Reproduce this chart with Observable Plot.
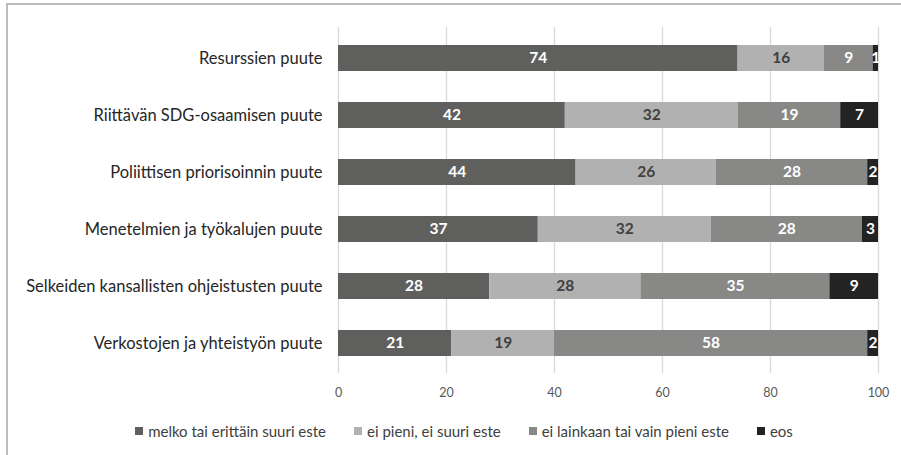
<!DOCTYPE html>
<html>
<head>
<meta charset="utf-8">
<script src="https://cdn.jsdelivr.net/npm/d3@7"></script>
<script src="https://cdn.jsdelivr.net/npm/@observablehq/plot@0.6"></script>
<style>
  html, body { margin: 0; padding: 0; background: #fff; }
  body { width: 901px; height: 455px; overflow: hidden; position: relative; font-family: Lato, "Open Sans", sans-serif; }
  #frame { position: absolute; left: 6px; top: 3px; width: 1000px; height: 460px; border-left: 2px solid #bcbcbc; border-top: 2px solid #bcbcbc; pointer-events: none; }
  #chart { position: absolute; left: 0; top: 0; }
  #legend { position: absolute; left: 0; top: 421px; width: 928px; display: flex; justify-content: center; gap: 28px; font-size: 15px; color: #404040; line-height: 20px; }
  #legend .item { display: flex; align-items: center; }
  #legend .sw { width: 8px; height: 8px; margin-right: 5px; }
</style>
</head>
<body>
<div id="chart"></div>
<div id="legend"></div>
<div id="frame"></div>
<script>
const items = [
  "Resurssien puute",
  "Riittävän SDG-osaamisen puute",
  "Poliittisen priorisoinnin puute",
  "Menetelmien ja työkalujen puute",
  "Selkeiden kansallisten ohjeistusten puute",
  "Verkostojen ja yhteistyön puute"
];
const categories = [
  "melko tai erittäin suuri este",
  "ei pieni, ei suuri este",
  "ei lainkaan tai vain pieni este",
  "eos"
];
const colors = ["#5f5f5e", "#b1b1b1", "#888887", "#232323"];
const labelColors = ["#ffffff", "#404040", "#ffffff", "#ffffff"];
const suuri = [74, 42, 44, 37, 28, 21];
const keski = [16, 32, 26, 32, 28, 19];
const pieni = [9, 19, 28, 28, 35, 58];
const eos   = [1, 7, 2, 3, 9, 2];
const xTicks = [0, 20, 40, 60, 80, 100];

const series = [suuri, keski, pieni, eos];
const data = [];
items.forEach((item, i) => {
  categories.forEach((cat, j) => {
    data.push({item, cat, value: series[j][i], label: labelColors[j]});
  });
});

const stackOpts = {x: "value", y: "item", z: "cat", order: categories};

const chart = Plot.plot({
  width: 901,
  height: 410,
  marginLeft: 338,
  marginRight: 23,
  marginTop: 27,
  marginBottom: 37,
  style: {fontFamily: "Lato, 'Open Sans', sans-serif", background: "transparent"},
  x: {domain: [0, 100], axis: null},
  y: {domain: items, paddingInner: 0.55, paddingOuter: 0.275, axis: null},
  color: {domain: categories, range: colors},
  marks: [
    Plot.gridX(xTicks, {stroke: "#d9d9d9", strokeOpacity: 1, strokeWidth: 1.3}),
    Plot.barX(data, Plot.stackX({...stackOpts, fill: "cat"})),
    Plot.text(data, Plot.stackX({...stackOpts, text: d => d.label === "#ffffff" ? String(d.value) : "", fill: "#ffffff", fontWeight: "bold", fontSize: 15.5})),
    Plot.text(data, Plot.stackX({...stackOpts, text: d => d.label === "#404040" ? String(d.value) : "", fill: "#404040", fontWeight: "bold", fontSize: 15.5})),
    Plot.axisY({tickSize: 0, tickPadding: 16, fontSize: 16.5, fill: "#262626", label: null}),
    Plot.axisX(xTicks, {tickSize: 0, tickPadding: 15, fontSize: 12.5, fill: "#595959", label: null})
  ]
});
document.getElementById("chart").appendChild(chart);

const legend = document.getElementById("legend");
categories.forEach((cat, j) => {
  const it = document.createElement("div");
  it.className = "item";
  const sw = document.createElement("span");
  sw.className = "sw";
  sw.style.background = colors[j];
  const tx = document.createElement("span");
  tx.textContent = cat;
  it.appendChild(sw);
  it.appendChild(tx);
  legend.appendChild(it);
});
</script>
</body>
</html>
